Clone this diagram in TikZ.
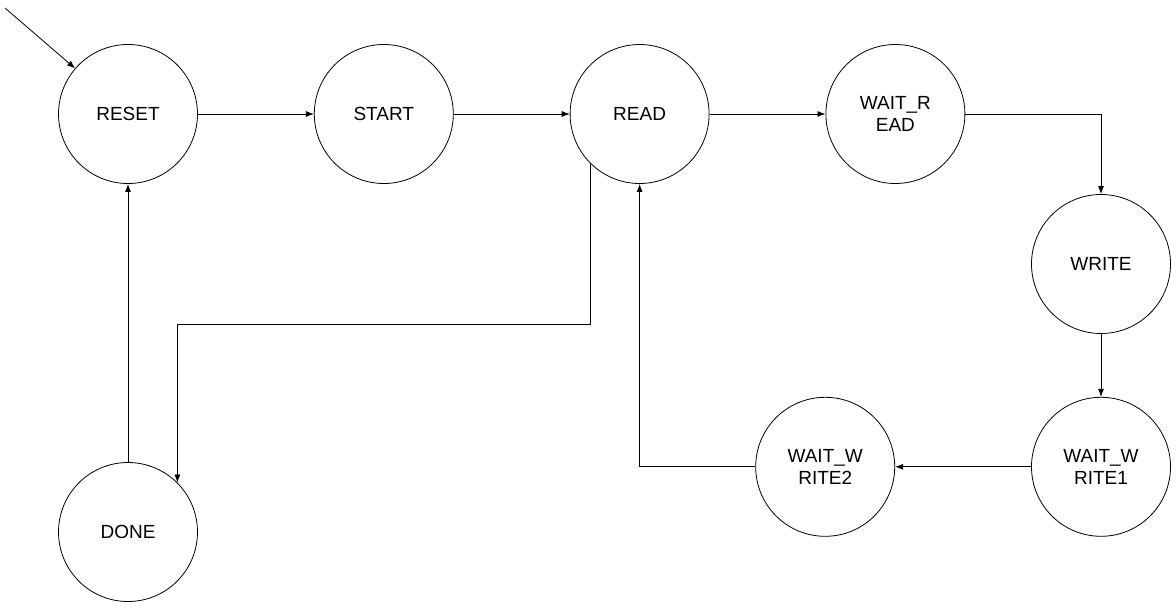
\documentclass[tikz,border=0pt]{standalone}
\usepackage{fontspec}
\setmainfont{Liberation Sans}
\usepackage{tikz}
\usetikzlibrary{arrows,arrows.meta,calc,positioning}

\begin{document}
\begin{tikzpicture}[auto,>={Latex[length=8pt,width=6pt]},x=1pt,y=-1pt,line width=0.8pt]
	\tikzstyle{state} = [draw, circle, minimum size=139pt, inner sep=0pt, align=center, font=\fontsize{19}{22}\selectfont]
	
	\useasboundingbox (0,0) rectangle (1176,606);
	
	\node[state] at (128,114) (reset) {RESET};
	\node[state, right = 116pt of reset] (start) {START};
	\node[state, right = 116pt of start] (read) {READ};
	\node[state, right = 116pt of read] (waitrd) {WAIT\_R\\EAD};
	
	\node[state] at (1101,264) (write) {WRITE};
	\node[state, below = 63pt of write] (waitwr1) {WAIT\_W\\RITE1};
	\node[state, left = 136pt of waitwr1] (waitwr2) {WAIT\_W\\RITE2};
	
	\node[state] at (128,532) (done) {DONE};
	
	\coordinate (init) at (5,8);
	\coordinate (turn) at (0,324);
	
	\draw [->] (init) -- (reset);
	\draw [->] (reset) -- (start);
	\draw [->] (start) -- (read);
	\draw [->] (read) -- (waitrd);
	\draw [->] (waitrd) -| (write);
	\draw [->] (write) -- (waitwr1);
	\draw [->] (waitwr1) -- (waitwr2);
	\draw [->] (waitwr2) -| (read);
	\draw [->] (read.south west) -- (read.south west |- turn) -| (done.north east);
	\draw [->] (done) -- (reset);
	
\end{tikzpicture}
\end{document}
